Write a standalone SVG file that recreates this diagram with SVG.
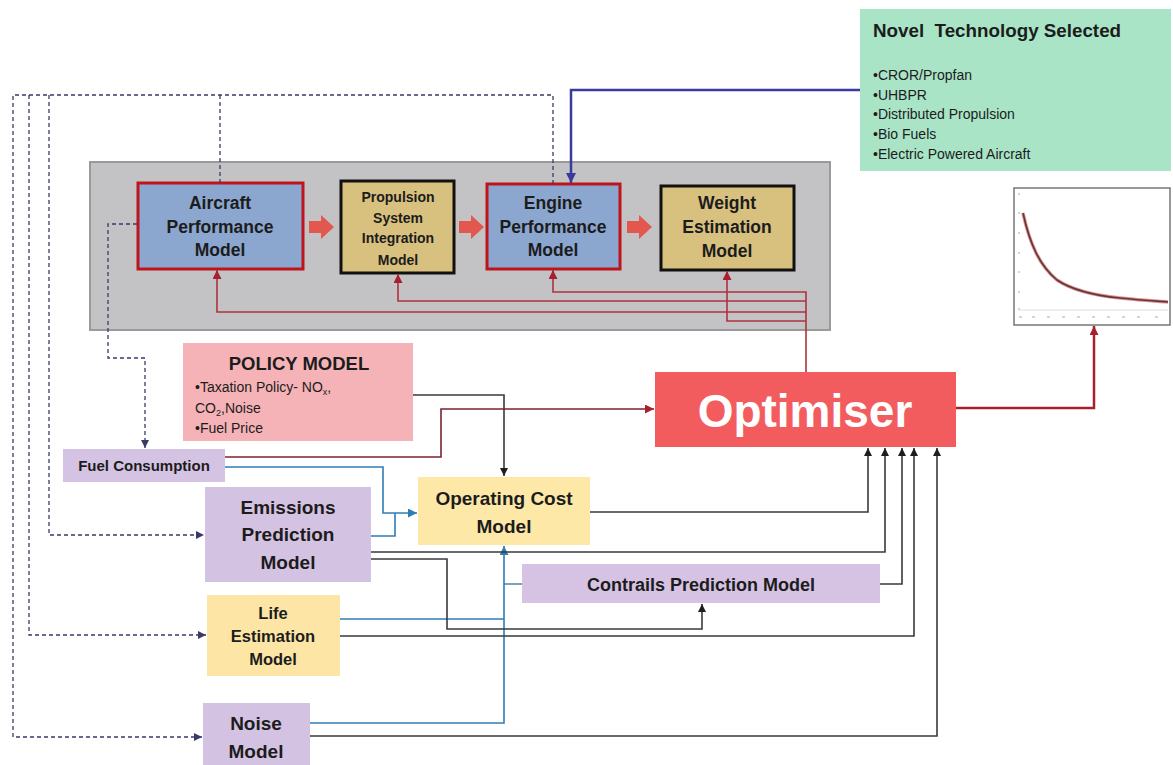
<svg xmlns="http://www.w3.org/2000/svg" width="1173" height="765" viewBox="0 0 1173 765">
<style>
text{font-family:"Liberation Sans",Arial,sans-serif;fill:#1c1c1c}
.b{font-weight:bold}
.c{text-anchor:middle}
.dk{fill:none;stroke:#3a3a3a;stroke-width:1.6}
.bl{fill:none;stroke:#2e7db5;stroke-width:1.6}
.rd{fill:none;stroke:#b0323e;stroke-width:1.6}
.ds{fill:none;stroke:#3a3a6a;stroke-width:1.3;stroke-dasharray:4 3}
.fat{fill:#e2584f}
</style>
<defs>
<marker id="ah-dark" viewBox="0 0 10 10" refX="10" refY="5" markerWidth="8" markerHeight="8" markerUnits="userSpaceOnUse" orient="auto"><path d="M0,0 L10,5 L0,10 z" fill="#1e1e1e"/></marker>
<marker id="ah-blue" viewBox="0 0 10 10" refX="10" refY="5" markerWidth="9" markerHeight="9" markerUnits="userSpaceOnUse" orient="auto"><path d="M0,0 L10,5 L0,10 z" fill="#2e7db5"/></marker>
<marker id="ah-red" viewBox="0 0 10 10" refX="10" refY="5" markerWidth="9" markerHeight="9" markerUnits="userSpaceOnUse" orient="auto"><path d="M0,0 L10,5 L0,10 z" fill="#a8202e"/></marker>
<marker id="ah-navy" viewBox="0 0 10 10" refX="10" refY="5" markerWidth="10" markerHeight="10" markerUnits="userSpaceOnUse" orient="auto"><path d="M0,0 L10,5 L0,10 z" fill="#3b3b9e"/></marker>
<marker id="ah-dash" viewBox="0 0 10 10" refX="10" refY="5" markerWidth="8" markerHeight="8" markerUnits="userSpaceOnUse" orient="auto"><path d="M0,0 L10,5 L0,10 z" fill="#3a3a6a"/></marker>
</defs>
<rect width="1173" height="765" fill="#ffffff"/>

<g id="container">
<rect x="90" y="162" width="740" height="168" fill="#c3c3c5" stroke="#9a9a9a" stroke-width="2"/>
</g>

<g id="novel-technology">
<rect x="860" y="9" width="311" height="162" fill="#a9e4c6"/>
<text x="873" y="37" class="b" font-size="18.8" style="white-space:pre">Novel  Technology Selected</text>
<text x="873" y="80" font-size="14">•CROR/Propfan</text>
<text x="873" y="100" font-size="14">•UHBPR</text>
<text x="873" y="119" font-size="14">•Distributed Propulsion</text>
<text x="873" y="139" font-size="14">•Bio Fuels</text>
<text x="873" y="159" font-size="14">•Electric Powered Aircraft</text>
</g>

<g id="chart">
<rect x="1014" y="188" width="156" height="137" fill="#ffffff" stroke="#777" stroke-width="1.5"/>
<g stroke="#aaa" stroke-width="1">
<line x1="1019" y1="317" x2="1022" y2="317"/><line x1="1032" y1="317" x2="1035" y2="317"/><line x1="1047" y1="317" x2="1050" y2="317"/><line x1="1062" y1="317" x2="1065" y2="317"/><line x1="1077" y1="317" x2="1080" y2="317"/><line x1="1092" y1="317" x2="1095" y2="317"/><line x1="1107" y1="317" x2="1110" y2="317"/><line x1="1122" y1="317" x2="1125" y2="317"/><line x1="1137" y1="317" x2="1140" y2="317"/><line x1="1155" y1="317" x2="1158" y2="317"/>
<line x1="1018" y1="194" x2="1020" y2="194"/><line x1="1018" y1="213" x2="1020" y2="213"/><line x1="1018" y1="233" x2="1020" y2="233"/><line x1="1018" y1="253" x2="1020" y2="253"/><line x1="1018" y1="272" x2="1020" y2="272"/><line x1="1018" y1="292" x2="1020" y2="292"/><line x1="1018" y1="309" x2="1020" y2="309"/>
</g>
<line x1="1018" y1="310" x2="1168" y2="310" stroke="#ddd" stroke-width="1"/>
<path d="M1023,213 C1030,245 1040,266 1057,280 C1075,292 1100,296 1120,298 C1140,300 1155,301 1168,302" fill="none" stroke="#e89090" stroke-width="3.5"/>
<path d="M1023,213 C1030,245 1040,266 1057,280 C1075,292 1100,296 1120,298 C1140,300 1155,301 1168,302" fill="none" stroke="#5a3a3a" stroke-width="1.6"/>
</g>

<g id="aircraft-performance">
<rect x="138" y="183" width="165" height="86" fill="#8ba6cf" stroke="#c0141c" stroke-width="3"/>
<text x="220" y="209" class="b c" font-size="17.5">Aircraft</text>
<text x="220" y="233" class="b c" font-size="17.5">Performance</text>
<text x="220" y="256" class="b c" font-size="17.5">Model</text>
</g>

<g id="propulsion-integration">
<rect x="341" y="181" width="113" height="92" fill="#d8c07e" stroke="#111" stroke-width="3"/>
<text x="398" y="202" class="b c" font-size="14">Propulsion</text>
<text x="398" y="223" class="b c" font-size="14">System</text>
<text x="398" y="243" class="b c" font-size="14">Integration</text>
<text x="398" y="265" class="b c" font-size="14">Model</text>
</g>

<g id="engine-performance">
<rect x="487" y="184" width="133" height="85" fill="#8ba6cf" stroke="#c0141c" stroke-width="3"/>
<text x="553" y="209" class="b c" font-size="17.5">Engine</text>
<text x="553" y="233" class="b c" font-size="17.5">Performance</text>
<text x="553" y="256" class="b c" font-size="17.5">Model</text>
</g>

<g id="weight-estimation">
<rect x="661" y="186" width="133" height="84" fill="#d8c07e" stroke="#111" stroke-width="3"/>
<text x="727" y="209" class="b c" font-size="17.5">Weight</text>
<text x="727" y="233" class="b c" font-size="17.5">Estimation</text>
<text x="727" y="257" class="b c" font-size="17.5">Model</text>
</g>

<g id="flow-arrows">
<path class="fat" d="M309,221 H321 V215 L334,227 L321,239 V233 H309 Z"/>
<path class="fat" d="M459,221 H471 V215 L484,227 L471,239 V233 H459 Z"/>
<path class="fat" d="M627,221 H639 V215 L652,227 L639,239 V233 H627 Z"/>
</g>

<g id="policy-model">
<rect x="183" y="343" width="230" height="98" fill="#f6b3b7"/>
<text x="299" y="370" class="b c" font-size="18.5">POLICY MODEL</text>
<text x="195" y="392" font-size="14">•Taxation Policy- NO<tspan font-size="9" dy="3">x</tspan><tspan dy="-3">,</tspan></text>
<text x="195" y="413" font-size="14">CO<tspan font-size="9" dy="3">2</tspan><tspan dy="-3">,Noise</tspan></text>
<text x="195" y="433" font-size="14">•Fuel Price</text>
</g>

<g id="optimiser">
<rect x="655" y="372" width="301" height="75" fill="#f25c5e"/>
<text x="805" y="427" class="b c" font-size="46" style="fill:#ffffff">Optimiser</text>
</g>

<g id="fuel-consumption">
<rect x="63" y="449" width="162" height="33" fill="#d5c3e3"/>
<text x="144" y="471" class="b c" font-size="15">Fuel Consumption</text>
</g>

<g id="emissions-prediction">
<rect x="205" y="487" width="166" height="95" fill="#d4c2e2"/>
<text x="288" y="514" class="b c" font-size="19">Emissions</text>
<text x="288" y="541" class="b c" font-size="19">Prediction</text>
<text x="288" y="569" class="b c" font-size="19">Model</text>
</g>

<g id="operating-cost">
<rect x="418" y="477" width="172" height="68" fill="#fde8a8"/>
<text x="504" y="505" class="b c" font-size="19">Operating Cost</text>
<text x="504" y="533" class="b c" font-size="19">Model</text>
</g>

<g id="contrails-prediction">
<rect x="522" y="564" width="358" height="39" fill="#d6c3e3"/>
<text x="701" y="591" class="b c" font-size="18">Contrails Prediction Model</text>
</g>

<g id="life-estimation">
<rect x="207" y="595" width="133" height="81" fill="#fde5a6"/>
<text x="273" y="619" class="b c" font-size="16.5">Life</text>
<text x="273" y="642" class="b c" font-size="16.5">Estimation</text>
<text x="273" y="665" class="b c" font-size="16.5">Model</text>
</g>

<g id="noise-model">
<rect x="203" y="703" width="107" height="62" fill="#d4c2e2"/>
<text x="256" y="730" class="b c" font-size="19">Noise</text>
<text x="256" y="758" class="b c" font-size="19">Model</text>
</g>

<g id="connectors">
<path class="ds" d="M553,184 V95 H13 V737 H202" marker-end="url(#ah-dash)"/>
<path class="ds" d="M29,95 V635 H206" marker-end="url(#ah-dash)"/>
<path class="ds" d="M49,95 V535 H204" marker-end="url(#ah-dash)"/>
<path class="ds" d="M220,183 V95"/>
<path class="ds" d="M137,224 H108 V358 H145 V448" marker-end="url(#ah-dash)"/>
<path d="M860,90 H571 V183" fill="none" stroke="#3b3b9e" stroke-width="2.5" marker-end="url(#ah-navy)"/>
<path class="rd" d="M806,372 V292 H553 V270" marker-end="url(#ah-red)"/>
<path class="rd" d="M806,301 H398 V274" marker-end="url(#ah-red)"/>
<path class="rd" d="M806,312 H217 V270" marker-end="url(#ah-red)"/>
<path class="rd" d="M806,321 H727 V271" marker-end="url(#ah-red)"/>
<path d="M956,408 H1094 V326" fill="none" stroke="#a8202e" stroke-width="2.5" marker-end="url(#ah-red)"/>
<path class="dk" d="M413,395 H504 V476" marker-end="url(#ah-dark)"/>
<path d="M225,457 H441 V409 H654" fill="none" stroke="#7d2232" stroke-width="1.6" marker-end="url(#ah-red)"/>
<path class="bl" d="M225,467 H383 V513 H417" marker-end="url(#ah-blue)"/>
<path class="bl" d="M371,536 H395 V513"/>
<path class="bl" d="M340,619 H504"/>
<path class="bl" d="M522,584 H504" style="stroke:#5a8aa8"/>
<path class="bl" d="M310,723 H504 V546" marker-end="url(#ah-blue)"/>
<path class="dk" d="M590,512 H868 V448" marker-end="url(#ah-dark)"/>
<path class="dk" d="M371,552 H885 V448" marker-end="url(#ah-dark)"/>
<path class="dk" d="M880,584 H902 V448" marker-end="url(#ah-dark)"/>
<path class="dk" d="M340,636 H914 V448" marker-end="url(#ah-dark)"/>
<path class="dk" d="M310,736 H937 V448" marker-end="url(#ah-dark)"/>
<path class="dk" d="M371,559 H447 V629 H702 V604" marker-end="url(#ah-dark)"/>
</g>
</svg>
